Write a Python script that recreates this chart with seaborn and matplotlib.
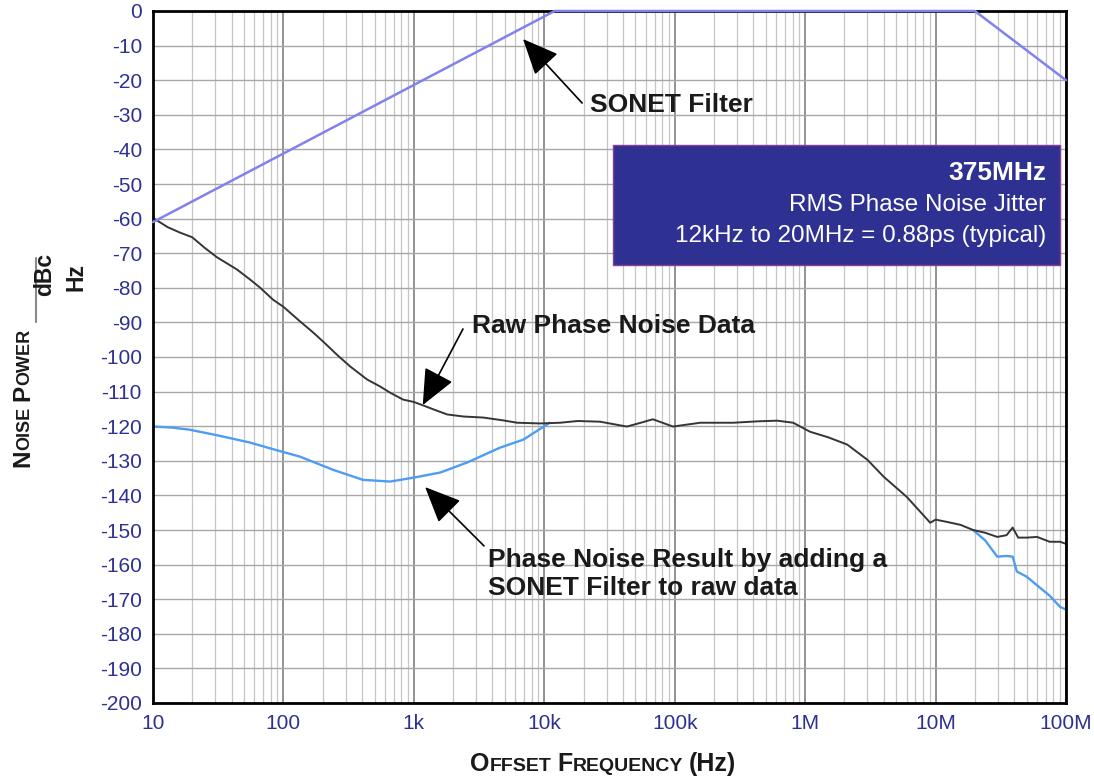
import numpy as np
import pandas as pd
import seaborn as sns
import matplotlib.pyplot as plt
from matplotlib.patches import Rectangle
from matplotlib.ticker import FixedLocator, LogLocator, NullFormatter
from matplotlib import font_manager

# values
raw_freq = [10, 13, 16, 20, 25, 31, 44, 55, 66, 83, 100, 134, 170, 201, 260, 324, 438, 550,
            657, 826, 1000, 1180, 1450, 1800, 2400, 3400, 4800, 6200, 9300, 13200, 18000,
            26800, 35000, 43000, 55000, 68000, 97000, 157000, 280000, 430000, 610000, 810000,
            1090000, 1500000, 2100000, 3000000, 4000000, 6000000, 9100000, 10000000, 12000000,
            15500000, 19400000, 24000000, 29700000, 35000000, 39000000, 43000000, 50000000,
            60000000, 75000000, 90000000, 100000000]
raw_db = [-59.8, -62.5, -64, -65.4, -68.5, -71.2, -74.7, -77.5, -79.9, -83.4, -85.5, -89.7, -93,
          -95.5, -99.5, -102.7, -106.5, -108.5, -110.3, -112.3, -113, -114, -115.3, -116.6, -117.2,
          -117.5, -118.3, -119, -119.2, -119, -118.5, -118.7, -119.5, -120.1, -119, -118, -120.1,
          -119, -119, -118.6, -118.4, -119, -121.6, -123.2, -125.3, -129.7, -134.6, -140.4, -147.9,
          -147, -147.6, -148.5, -150, -150.8, -152, -151.5, -149.3, -152.2, -152.2, -152, -153.4,
          -153.4, -154]

filt_low_freq = [10, 14, 19, 30, 55, 90, 134, 240, 407, 657, 985, 1590, 2560, 4580, 6900, 11000]
filt_low_db = [-120.1, -120.4, -121, -122.5, -124.7, -127, -128.8, -132.6, -135.5, -136, -134.9,
               -133.4, -130.5, -126.2, -123.9, -119]
filt_high_freq = [19400000, 24000000, 29700000, 35000000, 39000000, 42000000, 50000000,
                  60000000, 75000000, 90000000, 100000000]
filt_high_db = [-150, -153, -157.7, -157.5, -157.7, -162, -163.5, -166, -169, -172.2, -173]

sonet_freq = [10, 12000, 20000000, 100000000]
sonet_db = [-61, 0, 0, -20]

x_ticks = [10, 100, 1e3, 1e4, 1e5, 1e6, 1e7, 1e8]
x_labels = ['10', '100', '1k', '10k', '100k', '1M', '10M', '100M']
y_ticks = list(range(-200, 1, 10))

navy = '#2e3192'

sns.set_style('white')
plt.rcParams['font.family'] = ['Liberation Sans', 'DejaVu Sans']

# narrow face for the rotated axis title, if present
installed = {f.name for f in font_manager.fontManager.ttflist}
narrow = 'Liberation Sans Narrow' if 'Liberation Sans Narrow' in installed else 'Liberation Sans'

W, H = 1094, 780
fig = plt.figure(figsize=(W / 100, H / 100), dpi=100)
ax = fig.add_axes([153 / W, 1 - 703 / H, 913 / W, 692 / H])

ax.set_xscale('log')
ax.set_xlim(10, 1e8)
ax.set_ylim(-200, 0)
ax.xaxis.set_major_locator(FixedLocator(x_ticks))
ax.set_xticklabels(x_labels)
ax.xaxis.set_minor_locator(LogLocator(base=10, subs=np.arange(2, 10), numticks=20))
ax.xaxis.set_minor_formatter(NullFormatter())
ax.set_yticks(y_ticks)
ax.set_yticklabels([str(v) for v in y_ticks])
ax.tick_params(which='both', length=0, pad=8, labelsize=15, labelcolor=navy)

ax.set_axisbelow(True)
ax.grid(which='minor', axis='x', color='#c6c6c6', lw=0.9)
ax.grid(which='major', axis='x', color='#8a8a8a', lw=1.3)
ax.grid(which='major', axis='y', color='#a8a8a8', lw=1.0)
for sp in ax.spines.values():
    sp.set_color('black')
    sp.set_linewidth(2)

# traces
sns.lineplot(x=filt_low_freq, y=filt_low_db, ax=ax, color='#4d9df2', lw=1.7,
             estimator=None, sort=False)
sns.lineplot(x=filt_high_freq, y=filt_high_db, ax=ax, color='#4d9df2', lw=1.7,
             estimator=None, sort=False)
sns.lineplot(x=raw_freq, y=raw_db, ax=ax, color='#353535', lw=1.4,
             estimator=None, sort=False)
sns.lineplot(x=sonet_freq, y=sonet_db, ax=ax, color='#8282ee', lw=1.8,
             estimator=None, sort=False)
ax.lines[-1].set_clip_on(False)
ax.lines[-1].set_zorder(3)
ax.set_xlabel('')
ax.set_ylabel('')

# jitter box
ax.add_patch(Rectangle((0.504, 0.633), 0.489, 0.173, transform=ax.transAxes,
                       facecolor=navy, edgecolor='#8a3c96', lw=1, zorder=4))
ax.text(0.978, 0.756, '375MHz', transform=ax.transAxes, ha='right', va='baseline',
        color='white', fontsize=19, fontweight='bold', zorder=5)
ax.text(0.978, 0.711, 'RMS Phase Noise Jitter', transform=ax.transAxes, ha='right',
        va='baseline', color='white', fontsize=17.5, zorder=5)
ax.text(0.978, 0.666, '12kHz to 20MHz = 0.88ps (typical)', transform=ax.transAxes,
        ha='right', va='baseline', color='white', fontsize=17.5, zorder=5)

# callouts
arrow = dict(arrowstyle='-|>,head_length=0.5,head_width=0.22', mutation_scale=45,
             color='black', lw=1.2, shrinkA=0, shrinkB=0)
ax.annotate('', xy=(6870, -8.1), xytext=(19500, -26.6), arrowprops=arrow, zorder=6)
ax.text(22400, -29.2, 'SONET Filter', fontsize=19, fontweight='bold', va='baseline',
        color='#1a1a1a')
ax.annotate('', xy=(1170, -113.9), xytext=(2380, -91.9), arrowprops=arrow, zorder=6)
ax.text(2790, -93.1, 'Raw Phase Noise Data', fontsize=19, fontweight='bold', va='baseline',
        color='#1a1a1a')
ax.annotate('', xy=(1220, -137.6), xytext=(3450, -154.6), arrowprops=arrow, zorder=6)
ax.text(3710, -160.7, 'Phase Noise Result by adding a', fontsize=19, fontweight='bold',
        va='baseline', color='#1a1a1a')
ax.text(3710, -168.8, 'SONET Filter to raw data', fontsize=19, fontweight='bold',
        va='baseline', color='#1a1a1a')

# small-caps axis titles built piece by piece
renderer = fig.canvas.get_renderer()


def small_caps(pieces, x, y, vertical=False, family='Liberation Sans'):
    pos = y if vertical else x
    for s, size, gap in pieces:
        if vertical:
            t = fig.text(x / W, pos / H, s, rotation=90, rotation_mode='anchor', ha='left',
                         va='baseline', fontsize=size, fontweight='bold', color='#1a1a1a',
                         family=family)
            pos += t.get_window_extent(renderer).height + gap
        else:
            t = fig.text(pos / W, y / H, s, ha='left', va='baseline', fontsize=size,
                         fontweight='bold', color='#1a1a1a', family=family)
            pos += t.get_window_extent(renderer).width + gap


small_caps([('O', 18, 0), ('FFSET', 14, 6), ('F', 18, 0), ('REQUENCY', 14, 6),
            ('(Hz)', 18, 0)], 470, H - 771)
small_caps([('N', 17.5, 0), ('OISE', 13, 5), ('P', 17.5, 0), ('OWER', 13, 0)],
           29, H - 467, vertical=True, family=narrow)
fig.text(56 / W, 1 - 274 / H, 'dBc', rotation=90, ha='right', va='center', fontsize=16.5,
         fontweight='bold', color='#1a1a1a', family=narrow)
fig.text(87 / W, 1 - 277 / H, 'Hz', rotation=90, ha='right', va='center', fontsize=16.5,
         fontweight='bold', color='#1a1a1a', family=narrow)
fig.add_artist(plt.Line2D([36 / W, 36 / W], [1 - 258 / H, 1 - 322 / H], color='#8a8a8a',
                          lw=1.5))

fig.savefig('out.png', dpi=100)
